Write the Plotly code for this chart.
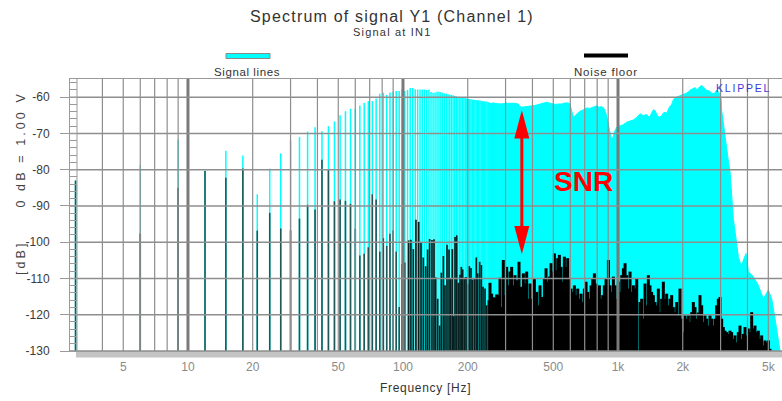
import math
import plotly.graph_objects as go

# ---------------------------------------------------------------------------
# Multitone lines below 300 Hz (3 Hz grid): signal level and noise floor level
# ---------------------------------------------------------------------------
tone_freq_hz = [
    3, 6, 9, 12, 15, 18, 21, 24, 27, 30, 33, 36, 39, 42, 45, 48, 51, 54, 57, 60,
    63, 66, 69, 72, 75, 78, 81, 84, 87, 90, 93, 96, 99, 102, 105, 108, 111, 114,
    117, 120, 123, 126, 129, 132, 135, 138, 141, 144, 147, 150, 153, 156, 159,
    162, 165, 168, 171, 174, 177, 180, 183, 186, 189, 192, 195, 198, 201, 204,
    207, 210, 213, 216, 219, 222, 225, 228, 231, 234, 237, 240, 243, 246, 249,
    252, 255, 258, 261, 264, 267, 270, 273, 276, 279, 282, 285, 288, 291, 294,
    297, 300,
]
tone_signal_db = [
    -83.0, -78.8, -71.7, -80.2, -74.8, -76.1, -86.8, -79.7, -75.5, -72.0,
    -71.0, -69.5, -68.3, -69.4, -68.0, -66.7, -65.0, -63.9, -63.2, -63.3,
    -62.3, -61.6, -61.1, -61.1, -60.4, -59.1, -58.8, -59.4, -58.7, -58.5,
    -58.3, -58.3, -57.8, -58.3, -58.0, -57.5, -57.5, -57.8, -57.9, -57.9,
    -57.9, -57.9, -58.0, -57.9, -58.6, -58.8, -58.7, -58.5, -58.5, -58.6,
    -58.8, -59.0, -59.1, -59.2, -59.3, -59.4, -59.5, -59.7, -59.8, -60.0,
    -60.0, -60.0, -60.0, -60.1, -60.2, -60.4, -60.5, -60.5, -60.6, -60.7,
    -60.7, -60.8, -60.8, -60.9, -60.9, -61.0, -61.0, -61.1, -61.1, -61.2,
    -61.2, -61.3, -61.4, -61.5, -61.6, -61.6, -61.5, -61.5, -61.6, -61.6,
    -61.6, -61.7, -61.7, -61.8, -61.7, -61.7, -61.8, -61.6, -61.6, -61.7,
]
# Noise floor on the first 34 tone lines (3 ... 102 Hz)
tone_noise_db = [
    -83.0, -97.6, -85.0, -80.4, -82.2, -79.7, -96.8, -91.9, -96.2, -96.7,
    -93.5, -89.7, -91.0, -77.3, -80.1, -88.7, -88.2, -88.6, -89.4, -96.3,
    -103.7, -103.2, -101.4, -86.8, -88.2, -102.6, -98.9, -101.0, -97.7, -96.8,
    -102.6, -117.9, -106.0, -105.6,
]

# ---------------------------------------------------------------------------
# Dense noise floor spectrum above ~100 Hz
# ---------------------------------------------------------------------------
floor_freq_hz = [
    106.3, 108.9, 111.7, 114.9, 118.3, 121.3, 124.3, 127.5, 130.2, 133.0,
    136.4, 139.4, 141.9, 145.0, 148.1, 150.8, 154.1, 156.8, 160.2, 163.7,
    166.6, 169.6, 172.1, 174.6, 177.7, 180.9, 184.1, 186.8, 189.5, 192.9,
    196.4, 199.9, 203.5, 207.2, 210.9, 215.4, 219.3, 222.5, 227.3, 231.4,
    235.6, 240.7, 245.0, 249.5, 253.9, 258.5, 263.2, 267.9, 272.7, 278.6,
    282.6, 287.7, 292.8,
    298.1, 303.5, 309.0, 314.5, 320.2, 326.0, 331.9, 339.1, 346.4, 353.9,
    362.9, 369.3, 376.1, 382.7, 389.8, 399.6, 408.3, 418.6, 426.0, 433.9,
    444.9, 454.5, 462.7, 471.0, 479.5, 488.2, 497.0, 505.9, 515.0, 524.3,
    533.8, 543.4, 553.2, 563.1, 573.3, 583.6, 594.1, 604.8, 615.7, 626.8,
    638.1, 649.6, 661.3, 673.2, 685.3, 697.7, 710.2, 723.0, 736.1, 749.3,
    762.8, 776.5, 790.5, 804.8, 819.2, 834.0, 849.0, 864.3, 879.9, 902.1,
    918.4, 934.9, 951.8, 968.9, 986.3, 1004.1, 1022.2, 1040.6, 1059.4, 1078.4,
    1097.8, 1117.6, 1137.7, 1158.2, 1179.1, 1200.3, 1221.9,
    1265.7, 1288.5, 1311.7, 1335.3, 1359.3, 1383.8, 1408.7, 1434.0, 1459.9,
    1486.2, 1512.9, 1540.2, 1567.9, 1596.1, 1624.9, 1654.1, 1683.9, 1714.2,
    1745.1, 1776.5, 1808.5, 1841.1, 1874.2, 1908.0, 1942.3, 1977.3, 2012.9,
    2049.1, 2086.0, 2123.6, 2161.8, 2200.7, 2240.4, 2280.7, 2321.8, 2363.6,
    2406.1, 2449.5, 2493.6, 2538.5, 2584.2, 2630.7, 2678.1, 2726.3, 2775.4,
    2825.4, 2876.3, 2928.1, 2980.8, 3034.5, 3089.1, 3144.8, 3201.4, 3259.0,
    3317.7, 3377.5, 3438.3, 3500.2, 3563.2, 3627.4, 3692.7, 3759.2, 3826.9,
    3895.8, 3966.0, 4037.4, 4110.1, 4184.1, 4259.4, 4336.1, 4414.2, 4493.7,
    4574.7, 4657.1, 4741.0, 4826.3, 4913.2, 5001.7, 5091.8,
]
floor_db = [
    -99.5, -99.3, -101.9, -93.8, -94.4, -100.2, -104.2, -106.6, -102.0, -99.1,
    -99.4, -99.2, -109.7, -115.6, -123.0, -108.4, -103.8, -111.9, -100.7, -102.0,
    -110.0, -101.9, -120.4, -98.6, -98.1, -111.2, -109.0, -106.8, -107.5, -109.8,
    -109.6, -111.6, -106.6, -107.1, -110.3, -110.0, -104.2, -108.6, -105.4, -106.3,
    -112.3, -112.8, -117.4, -116.0, -111.2, -114.2, -115.2, -115.3, -114.4, -114.6,
    -109.8, -117.9, -104.9,
    -114.6, -106.8, -111.9, -108.1, -106.8, -111.9, -109.1, -110.5, -105.4, -112.3,
    -108.6, -111.4, -108.1, -115.6, -111.4, -115.6, -110.0, -113.7, -117.4, -111.9,
    -115.1, -110.0, -107.2, -110.9, -109.5, -105.8, -108.1, -103.1, -107.7, -104.4,
    -103.5, -106.8, -110.9, -104.0, -106.8, -104.4, -110.0, -112.8, -113.7, -111.9,
    -114.6, -112.8, -115.6, -114.2, -116.5, -112.8, -110.9, -113.7, -115.6, -111.9,
    -110.0, -108.6, -111.4, -112.8, -111.9, -115.6, -114.6, -111.9, -110.0, -104.9,
    -111.9, -113.7, -109.5, -111.9, -115.6, -110.9, -113.7, -109.1, -107.2, -105.8,
    -109.1, -112.8, -108.1, -113.7, -111.9, -112.8, -110.0,
    -116.5, -115.6, -121.1, -111.4, -117.4, -109.1, -111.9, -113.7, -114.6,
    -116.5, -117.4, -112.8, -119.3, -115.6, -110.9, -115.6, -114.2, -117.4,
    -115.6, -114.6, -117.9, -119.3, -116.5, -120.2, -112.8, -121.1, -124.8,
    -120.2, -121.1, -120.2, -122.0, -119.3, -116.5, -117.9, -121.1, -119.4,
    -114.6, -117.4, -122.0, -120.2, -121.1, -123.0, -120.2, -121.1, -123.0,
    -121.1, -117.4, -115.6, -115.1, -121.1, -123.4, -124.4, -124.8, -125.3,
    -124.4, -124.8, -126.7, -125.7, -127.6, -124.8, -123.0, -126.7, -125.3,
    -123.4, -125.7, -123.8, -124.8, -119.3, -123.8, -123.0, -124.8, -124.4,
    -126.7, -125.7, -128.5, -127.1, -127.6, -127.1, -129.4,
]

# ---------------------------------------------------------------------------
# Upper envelope of the dense signal lines above 300 Hz
# ---------------------------------------------------------------------------
band_freq_hz = [
    298.1, 309.0, 320.2, 331.9, 343.8, 350.0, 356.4, 369.3, 382.7, 396.6,
    411.1, 426.0, 441.5, 457.5, 465.8, 482.7, 500.2, 509.2, 527.7, 546.9,
    566.7, 587.3, 598.1, 608.8, 619.8, 630.9, 642.3, 665.6, 689.8, 714.9,
    740.8, 759.5, 776.0, 795.6, 815.7, 839.3, 857.6, 875.9, 888.5, 901.3,
    914.3, 927.4, 940.8, 954.3, 968.0, 985.4, 1003.2, 1021.4, 1058.3, 1096.8,
    1136.6, 1177.9, 1220.7,
    1265.7, 1311.7, 1359.3, 1398.9, 1434.0, 1459.9, 1486.2, 1523.9, 1556.8,
    1596.1, 1636.4, 1683.9, 1732.9, 1776.5, 1808.5, 1841.1, 1908.2, 1977.5,
    2049.1, 2123.6, 2161.8, 2224.6, 2280.8, 2338.5, 2389.1, 2449.5, 2512.4,
    2584.2, 2659.9, 2727.0, 2796.0, 2877.0, 2960.0, 3013.6, 3034.5, 3089.1,
    3144.8, 3201.4, 3259.0, 3317.7, 3377.5, 3438.3, 3500.2, 3563.2, 3627.4,
    3692.7, 3759.2, 3826.9, 3895.8, 3939.0, 4037.4, 4259.4, 4493.7, 4741.0,
    5001.7, 5184.0, 5373.0, 5568.0, 5669.0,
]
band_db = [
    -61.6, -61.7, -61.6, -61.7, -61.9, -62.6, -62.8, -62.6, -62.5, -62.4,
    -62.3, -62.0, -61.9, -61.6, -61.4, -61.7, -61.9, -62.0, -61.9, -61.9,
    -61.6, -61.6, -61.9, -64.2, -65.6, -65.1, -64.6, -63.9, -63.5, -63.0,
    -63.1, -62.8, -62.6, -62.4, -62.8, -62.6, -63.0, -64.2, -65.6, -67.4,
    -69.3, -71.1, -71.6, -70.2, -69.3, -68.3, -68.1, -67.8, -67.6, -66.9,
    -66.5, -66.3, -65.6,
    -64.6, -65.1, -64.8, -65.6, -64.2, -63.5, -63.7, -65.1, -65.6,
    -65.1, -64.2, -64.4, -62.8, -62.0, -60.7, -60.2, -59.8, -59.5,
    -59.1, -58.6, -58.1, -57.7, -57.4, -58.0, -57.2, -56.8, -57.4,
    -58.1, -58.3, -58.9, -59.1, -58.1, -58.9, -60.5, -63.7, -67.5,
    -71.6, -75.0, -77.6, -80.5, -88.7, -93.5, -97.0, -100.5, -104.0,
    -105.5, -106.3, -105.0, -103.5, -103.1, -108.1, -109.5, -111.9, -115.6,
    -113.2, -115.6, -121.1, -126.7, -130.0,
]

# Axis ticks and grid
x_tick_vals = [5, 10, 20, 50, 100, 200, 500, 1000, 2000, 5000]
x_tick_text = ["5", "10", "20", "50", "100", "200", "500", "1k", "2k", "5k"]
y_tick_vals = [-60, -70, -80, -90, -100, -110, -120, -130]
y_tick_text = ["-60", "-70", "-80", "-90", "-100", "-110", "-120", "-130"]
grid_minor_hz = [4, 5, 6, 7, 8, 9, 20, 30, 40, 50, 60, 70, 80, 90,
                 200, 300, 400, 500, 600, 700, 800, 900, 2000, 3000, 4000, 5000]
grid_decade_hz = [10, 100, 1000]

# SNR marker: signal level and noise level at the marked frequency
snr_freq_hz = 357
snr_signal_db = -63.6
snr_noise_db = -103.3

F_MIN, F_MAX = 2.827, 5790.0
DB_MIN, DB_MAX = -130.0, -55.0
LOG_LO, LOG_HI = math.log10(F_MIN), math.log10(F_MAX)
DENSE_FROM_HZ = 250.0   # above this the noise lines merge into a solid mass

FONT = "Liberation Sans Narrow, Arial Narrow, Liberation Sans, Arial, sans-serif"
GRID = "#8e8e8e"


def spaced(text, px):
    """Text with extra letter spacing."""
    return f'<span style="letter-spacing:{px}px">{text}</span>'


def stems(freqs, levels, base=DB_MIN):
    """Vertical line from the floor of the plot up to each level."""
    xs, ys = [], []
    for f, v in zip(freqs, levels):
        xs += [f, f, None]
        ys += [base, v, None]
    return xs, ys


fig = go.Figure()

# Signal lines (cyan) below 300 Hz
sx, sy = stems(tone_freq_hz, tone_signal_db)
fig.add_trace(go.Scatter(x=sx, y=sy, mode="lines",
                         line=dict(color="#00ffff", width=1.5),
                         hoverinfo="skip", showlegend=False))

# Dense signal lines above 300 Hz drawn as their filled envelope
bx = [band_freq_hz[0]] + band_freq_hz + [band_freq_hz[-1]]
by = [DB_MIN] + band_db + [DB_MIN]
fig.add_trace(go.Scatter(x=bx, y=by, mode="lines", fill="toself",
                         fillcolor="#00ffff", line=dict(color="#00ffff", width=1),
                         hoverinfo="skip", showlegend=False))

# Noise floor on the low-frequency tone lines
n_freq = tone_freq_hz[:len(tone_noise_db)]
nx, ny = stems(n_freq, tone_noise_db)
fig.add_trace(go.Scatter(x=nx, y=ny, mode="lines",
                         line=dict(color="#1f5858", width=1.6),
                         hoverinfo="skip", showlegend=False))

# Noise floor spectrum: separate lines at lower frequencies, solid mass above
low = [(f, v) for f, v in zip(floor_freq_hz, floor_db) if f < DENSE_FROM_HZ]
high = [(f, v) for f, v in zip(floor_freq_hz, floor_db) if f >= DENSE_FROM_HZ]
lx, ly = stems([p[0] for p in low], [p[1] for p in low])
fig.add_trace(go.Scatter(x=lx, y=ly, mode="lines",
                         line=dict(color="#0a1f1f", width=1.7),
                         hoverinfo="skip", showlegend=False))
hx_, hy_ = stems([p[0] for p in high], [p[1] for p in high])
fig.add_trace(go.Scatter(x=hx_, y=hy_, mode="lines",
                         line=dict(color="#000000", width=3.0),
                         hoverinfo="skip", showlegend=False))

# Grid drawn over the spectrum
gx, gy = [], []
for f in grid_minor_hz:
    gx += [f, f, None]
    gy += [DB_MIN, DB_MAX, None]
fig.add_trace(go.Scatter(x=gx, y=gy, mode="lines",
                         line=dict(color=GRID, width=1.2),
                         hoverinfo="skip", showlegend=False))
dx, dy = [], []
for f in grid_decade_hz:
    dx += [f, f, None]
    dy += [DB_MIN, DB_MAX, None]
fig.add_trace(go.Scatter(x=dx, y=dy, mode="lines",
                         line=dict(color="#7a7a7a", width=3),
                         hoverinfo="skip", showlegend=False))
hx, hy = [], []
for v in y_tick_vals:
    hx += [F_MIN, F_MAX, None]
    hy += [v, v, None]
fig.add_trace(go.Scatter(x=hx, y=hy, mode="lines",
                         line=dict(color=GRID, width=1.5),
                         hoverinfo="skip", showlegend=False))

# SNR double arrow
xc = (math.log10(snr_freq_hz) - LOG_LO) / (LOG_HI - LOG_LO)
hw = 7.5 / 712.0
head = 7.8
shapes = [
    dict(type="line", xref="paper", yref="y", x0=xc, x1=xc,
         y0=snr_signal_db - head + 0.5, y1=snr_noise_db + head - 0.5,
         line=dict(color="#ff0000", width=3)),
    dict(type="path", xref="paper", yref="y",
         path=f"M {xc - hw},{snr_signal_db - head} L {xc},{snr_signal_db} "
              f"L {xc + hw},{snr_signal_db - head} Z",
         fillcolor="#ff0000", line=dict(width=0)),
    dict(type="path", xref="paper", yref="y",
         path=f"M {xc - hw},{snr_noise_db + head} L {xc},{snr_noise_db} "
              f"L {xc + hw},{snr_noise_db + head} Z",
         fillcolor="#ff0000", line=dict(width=0)),
    # inner edge of the scale strip on the left
    dict(type="line", xref="paper", yref="paper", x0=7 / 712, x1=7 / 712,
         y0=0, y1=1, line=dict(color="#9a9a9a", width=1)),
    # grey base strip under the plot
    dict(type="rect", xref="paper", yref="paper", x0=6 / 712, x1=1.0,
         y0=-6.5 / 272, y1=-1 / 272, fillcolor="#c4c4c4", line=dict(width=0)),
    # legend swatches
    dict(type="rect", xref="paper", yref="paper", x0=156 / 712, x1=200 / 712,
         y0=1 + 20.5 / 272, y1=1 + 25.5 / 272, fillcolor="#00ffff",
         line=dict(color="#8a8a8a", width=1)),
    dict(type="rect", xref="paper", yref="paper", x0=514 / 712, x1=558 / 712,
         y0=1 + 21.5 / 272, y1=1 + 25.5 / 272, fillcolor="#000000",
         line=dict(width=0)),
]

annotations = [
    dict(text=spaced("Spectrum of signal Y1 (Channel 1)", 1.2),
         x=322 / 712, y=1 + 62 / 272,
         xref="paper", yref="paper", showarrow=False, xanchor="center",
         yanchor="middle", font=dict(family=FONT, size=16, color="#333333")),
    dict(text=spaced("Signal at IN1", 1.2), x=322 / 712, y=1 + 47 / 272,
         xref="paper", yref="paper", showarrow=False, xanchor="center",
         yanchor="middle", font=dict(family=FONT, size=11, color="#333333")),
    dict(text=spaced("Signal lines", 0.6), x=177 / 712, y=1 + 7 / 272,
         xref="paper", yref="paper", showarrow=False, xanchor="center",
         yanchor="middle", font=dict(family=FONT, size=11.5, color="#333333")),
    dict(text=spaced("Noise floor", 0.8), x=536 / 712, y=1 + 7 / 272,
         xref="paper", yref="paper", showarrow=False, xanchor="center",
         yanchor="middle", font=dict(family=FONT, size=11.5, color="#333333")),
    dict(text=spaced("KLIPPEL", 1.8), x=673 / 712, y=1 - 9 / 272,
         xref="paper", yref="paper", showarrow=False, xanchor="center",
         yanchor="middle", font=dict(family=FONT, size=10.5, color="#3a3ad8")),
    dict(text="SNR", x=513 / 712, y=(351 - 181.5) / 272,
         xref="paper", yref="paper", showarrow=False, xanchor="center",
         yanchor="middle",
         font=dict(family="Liberation Sans, Arial, sans-serif", size=28,
                   color="#ff0000", weight="bold")),
    dict(text=spaced("[dB]\u00a0\u00a0\u00a0\u00a0\u00a00 dB = 1.00 V", 3.1),
         x=-49 / 712, y=(351 - 183) / 272, textangle=-90,
         xref="paper", yref="paper", showarrow=False, xanchor="center",
         yanchor="middle", font=dict(family=FONT, size=12.5, color="#444444")),
    dict(text=spaced("Frequency [Hz]", 0.7), x=355 / 712, y=-37 / 272,
         xref="paper", yref="paper", showarrow=False, xanchor="center",
         yanchor="middle", font=dict(family=FONT, size=12, color="#333333")),
]

fig.update_layout(
    width=782, height=401, autosize=False,
    margin=dict(l=70, r=0, t=79, b=50, pad=0),
    paper_bgcolor="white", plot_bgcolor="white",
    shapes=shapes, annotations=annotations,
    showlegend=False,
    xaxis=dict(
        type="log", range=[LOG_LO, LOG_HI], autorange=False,
        tickmode="array", tickvals=x_tick_vals, ticktext=x_tick_text,
        ticks="", showgrid=False, zeroline=False,
        showline=True, mirror=True, linecolor="#9a9a9a", linewidth=1,
        tickfont=dict(family=FONT, size=12, color="#8a8a8a"),
        ticklabelstandoff=5,
    ),
    yaxis=dict(
        range=[DB_MIN, DB_MAX], autorange=False,
        tickmode="array", tickvals=y_tick_vals, ticktext=y_tick_text,
        ticks="outside", ticklen=9, tickcolor="#9a9a9a", tickwidth=1,
        showgrid=False, zeroline=False,
        showline=True, linecolor="#9a9a9a", linewidth=1,
        tickfont=dict(family=FONT, size=12, color="#3a3a3a"),
        ticklabelstandoff=8,
        minor=dict(tickmode="linear", tick0=-130, dtick=2, ticks="inside",
                   ticklen=7, tickcolor="#9a9a9a", tickwidth=1, showgrid=False),
    ),
)

fig.write_html("out.html", config={"displayModeBar": False})
